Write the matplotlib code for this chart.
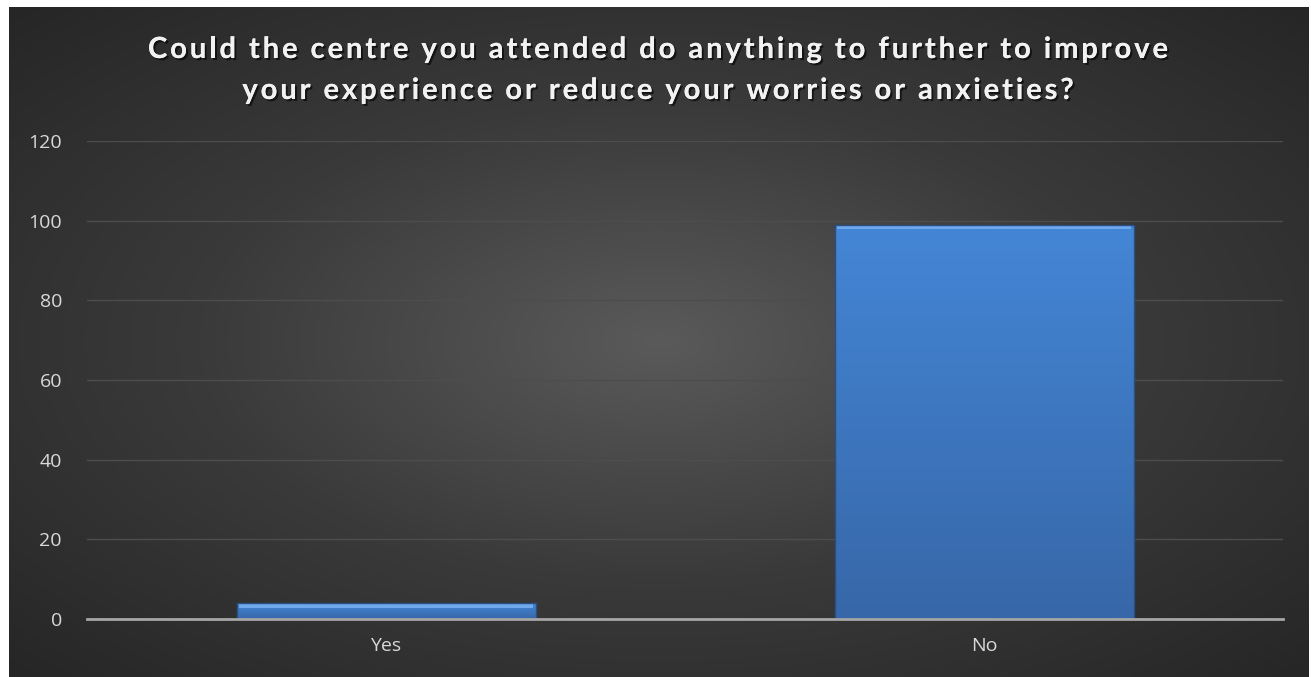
import numpy as np
import matplotlib.pyplot as plt
from matplotlib.colors import LinearSegmentedColormap
from matplotlib.font_manager import FontProperties
import matplotlib.patheffects as pe

categories = ["Yes", "No"]
counts = [4, 99]
y_ticks = [0, 20, 40, 60, 80, 100, 120]
title_lines = ["Could the centre you attended do anything to further to improve",
               "your experience or reduce your worries or anxieties?"]

W, H = 1311, 677
fig = plt.figure(figsize=(W / 100, H / 100), dpi=100)
fig.patch.set_facecolor("white")

# dark radial-gradient background (white margin at top/left like the source)
bg = fig.add_axes([9 / W, 0, 1300 / W, 670 / H])
bg.set_axis_off()
yy, xx = np.mgrid[-1:1:300j, -1:1:600j]
r = np.sqrt(xx ** 2 + yy ** 2) / np.sqrt(2)
bg_cmap = LinearSegmentedColormap.from_list("bg", ["#5a5a5a", "#3a3a3a", "#262626"])
bg.imshow(r, cmap=bg_cmap, aspect="auto", extent=[0, 1, 0, 1], vmin=0, vmax=1)
bg.set_xlim(0, 1)
bg.set_ylim(0, 1)

ax = fig.add_axes([87 / W, 58 / H, 1196 / W, 478 / H])
ax.patch.set_alpha(0)

x = np.arange(len(categories))
bars = ax.bar(x, counts, width=0.5, color="#3f7fcf", zorder=3)

# vertical blue gradient inside each bar
bar_cmap = LinearSegmentedColormap.from_list("bar", ["#3767a8", "#4486d6"])
grad = np.linspace(0, 1, 256).reshape(-1, 1)
for b in bars:
    x0, y0 = b.get_x(), b.get_y()
    w, h = b.get_width(), b.get_height()
    im = ax.imshow(grad, cmap=bar_cmap, aspect="auto", origin="lower",
                   extent=[x0, x0 + w, y0, y0 + h], zorder=3)
    im.set_clip_path(b)
    # bevel highlight on top
    hl = min(1.2, h * 0.3)
    ax.bar(x0 + w / 2, hl, width=w * 0.98, bottom=y0 + h - hl, color="#6fa8ec", zorder=4)
    ax.bar(x0 + w / 2, h, width=w, fill=False, edgecolor="#2a4f80", linewidth=1.0, zorder=5)

ax.set_xlim(-0.5, 1.5)
ax.set_ylim(0, 120)
ax.set_yticks(y_ticks)
ax.set_xticks(x)
ax.set_xticklabels(categories)
ax.grid(axis="y", color="#4d4d4d", linewidth=1.0, zorder=0)
ax.set_axisbelow(True)
for side in ["top", "right", "left"]:
    ax.spines[side].set_visible(False)
ax.spines["bottom"].set_color("#a6a6a6")
ax.spines["bottom"].set_linewidth(2)
ax.spines["bottom"].set_zorder(6)
ax.tick_params(axis="both", length=0, colors="#d9d9d9", labelsize=14)
ax.tick_params(axis="y", pad=18)
ax.tick_params(axis="x", pad=13)
for lab in ax.get_xticklabels() + ax.get_yticklabels():
    lab.set_family("Open Sans")

# title with letter spacing, drawn glyph by glyph
fp = FontProperties(family="Lato", weight="bold", size=21)
renderer = fig.canvas.get_renderer()


def width(s):
    return renderer.get_text_width_height_descent(s, fp, ismath=False)[0]


def advances(line):
    base = width("HH")
    return [width("H" + ch + "H") - base for ch in line]


adv1 = advances(title_lines[0])
spacing = (1020 - sum(adv1)) / (len(title_lines[0]) - 1)
shadow = [pe.withSimplePatchShadow(offset=(1.5, -1.5), shadow_rgbFace="black", alpha=0.6),
          pe.Normal()]
for line, baseline in zip(title_lines, [58, 99]):
    adv = advances(line)
    total = sum(adv) + spacing * (len(line) - 1)
    cur = 658 - total / 2
    for ch, a in zip(line, adv):
        if ch != " ":
            fig.text((cur + a / 2) / W, 1 - baseline / H, ch, ha="center", va="baseline",
                     color="#f2f2f2", fontproperties=fp, path_effects=shadow)
        cur += a + spacing

fig.savefig("out.png", dpi=100, facecolor=fig.get_facecolor())
